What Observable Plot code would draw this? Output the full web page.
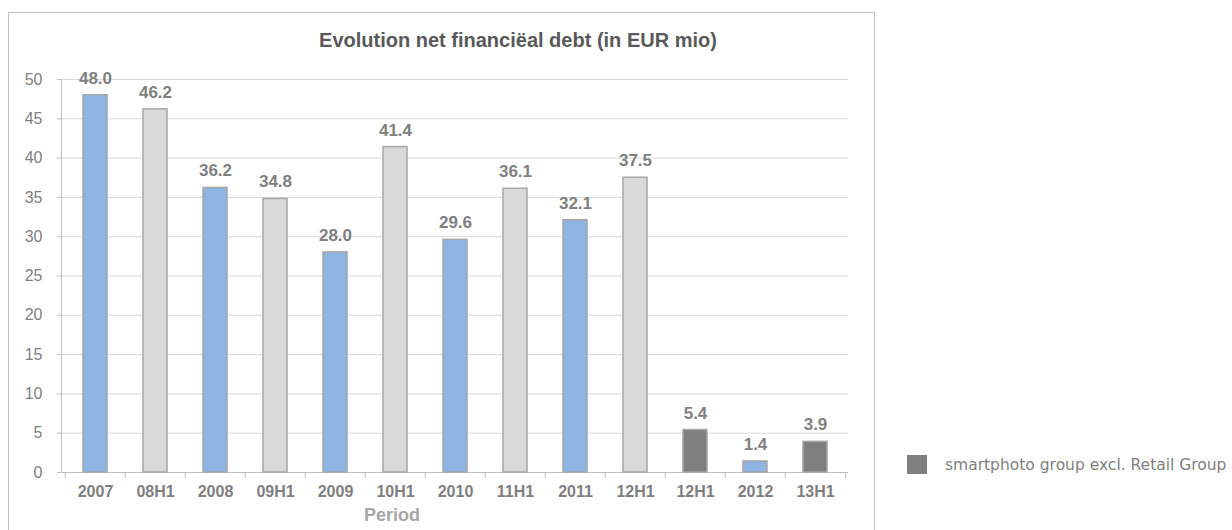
<!DOCTYPE html>
<html><head><meta charset="utf-8">
<script src="https://cdn.jsdelivr.net/npm/d3@7"></script>
<script src="https://cdn.jsdelivr.net/npm/@observablehq/plot@0.6"></script>
<style>
body{margin:0;background:#fff;}
#wrap{position:relative;width:1232px;height:530px;overflow:hidden;font-family:"Liberation Sans",Arial,sans-serif;}
#frame{position:absolute;left:8px;top:12px;width:867px;height:540px;border:1px solid #bfbfbf;box-sizing:border-box;}
#title{position:absolute;left:318px;width:400px;top:29px;text-align:center;font-weight:bold;font-size:20px;color:#595959;white-space:nowrap;}
#xlabel{position:absolute;left:330px;width:124px;top:505px;text-align:center;font-weight:bold;font-size:18px;color:#a6a6a6;}
#legend{position:absolute;left:907px;top:455px;font-family:"DejaVu Sans",Verdana,sans-serif;font-size:15.5px;color:#7f7f7f;display:flex;align-items:center;white-space:nowrap;}
#legend span.sw{display:inline-block;width:20px;height:19px;background:#7f7f7f;margin-right:18px;}
#chart{position:absolute;left:0;top:0;}
</style>
</head><body>
<div id="wrap">
<div id="frame"></div>
<div id="chart"></div>
<div id="title"></div>
<div id="xlabel"></div>
<div id="legend"></div>
</div>
<script>
const titleText = "Evolution net financiëal debt (in EUR mio)";
const xTitle = "Period";
const periods = ["2007","08H1","2008","09H1","2009","10H1","2010","11H1","2011","12H1","12H1","2012","13H1"];
const values  = [48.0, 46.2, 36.2, 34.8, 28.0, 41.4, 29.6, 36.1, 32.1, 37.5, 5.4, 1.4, 3.9];
const series  = ["year","half","year","half","year","half","year","half","year","half","excl","year","excl"];
const seriesNames = ["year","half","excl"];
const seriesColors = ["#8db4e3","#d9d9d9","#7f7f7f"];
const legendLabel = "smartphoto group excl. Retail Group";
const yTicks = [0,5,10,15,20,25,30,35,40,45,50];

const data = periods.map((p,i)=>({i, period:p, value:values[i], group:series[i]}));
const idx = data.map(d=>d.i);

const W = 1232, H = 530, mL = 61, mR = 384, mT = 79, mB = 58;
const half = (W - mL - mR) / periods.length / 2;

const chart = Plot.plot({
  width: W, height: H,
  marginLeft: mL, marginRight: mR, marginTop: mT, marginBottom: mB,
  style: {fontFamily: '"Liberation Sans", Arial, sans-serif', background: "transparent", overflow: "visible"},
  x: {type: "band", domain: idx, paddingInner: 0.6, paddingOuter: 0.3, label: null},
  y: {domain: [0, 50], label: null},
  color: {domain: seriesNames, range: seriesColors},
  marks: [
    Plot.gridY(yTicks, {stroke: "#d9d9d9", strokeOpacity: 1}),
    Plot.frame({anchor: "left", stroke: "#bfbfbf"}),
    Plot.ruleY([0], {stroke: "#bfbfbf"}),
    Plot.ruleX(idx, {x: d=>d, y1: 0, y2: -0.75, dx: -half, stroke: "#bfbfbf"}),
    Plot.ruleX([idx[idx.length-1]], {x: d=>d, y1: 0, y2: -0.75, dx: half, stroke: "#bfbfbf"}),
    Plot.barY(data, {x: "i", y: "value", fill: "group", stroke: "#a6a6a6", strokeWidth: 1.5}),
    Plot.text(data, {x: "i", y: "value", text: d=>d.value.toFixed(1), dy: -17, fontWeight: "bold", fontSize: 17, fill: "#7f7f7f"}),
    Plot.axisY(yTicks, {tickSize: 4, tickPadding: 15, stroke: "#bfbfbf", fill: "#7f7f7f", fontSize: 16, tickFormat: d=>d}),
    Plot.axisX(idx, {tickSize: 0, tickPadding: 13, fill: "#7f7f7f", fontSize: 16, fontWeight: "bold", tickFormat: i=>periods[i]})
  ]
});
document.getElementById("chart").appendChild(chart);
document.getElementById("title").textContent = titleText;
document.getElementById("xlabel").textContent = xTitle;
const lg = document.getElementById("legend");
lg.innerHTML = '<span class="sw"></span><span></span>';
lg.lastChild.textContent = legendLabel;
</script>
</body></html>
